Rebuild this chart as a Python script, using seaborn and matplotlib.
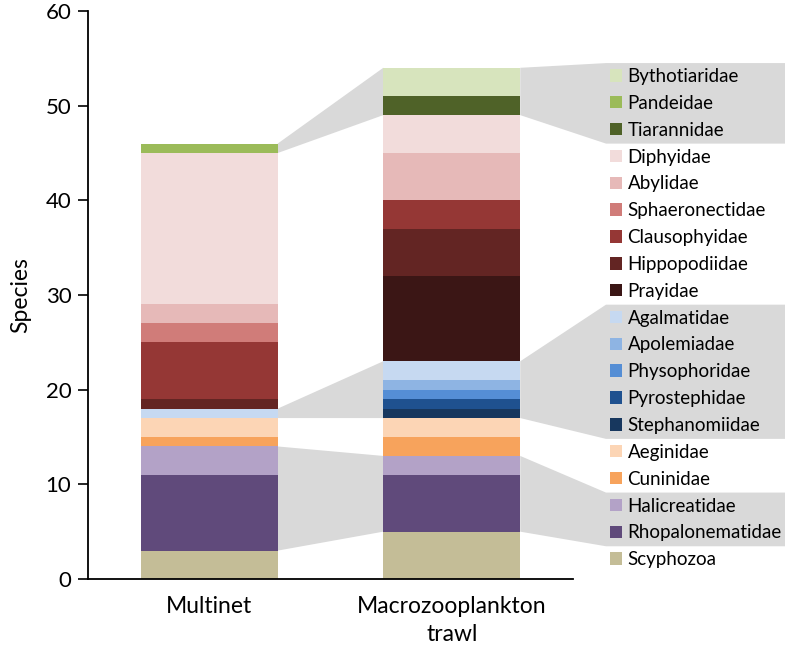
import numpy as np
import pandas as pd
import matplotlib
matplotlib.use("Agg")
import matplotlib.pyplot as plt
from matplotlib.patches import Patch, Polygon
import seaborn as sns

samples = ["Multinet", "Macrozooplankton\ntrawl"]

# stacking order, bottom -> top
families = ["Scyphozoa", "Rhopalonematidae", "Halicreatidae", "Cuninidae", "Aeginidae",
            "Stephanomiidae", "Pyrostephidae", "Physophoridae", "Apolemiadae", "Agalmatidae",
            "Prayidae", "Hippopodiidae", "Clausophyidae", "Sphaeronectidae", "Abylidae",
            "Diphyidae", "Tiarannidae", "Pandeidae", "Bythotiaridae"]
multinet = [3, 8, 3, 1, 2, 0, 0, 0, 0, 1, 0, 1, 6, 2, 2, 16, 0, 1, 0]
macro = [5, 6, 2, 2, 2, 1, 1, 1, 1, 2, 9, 5, 3, 0, 5, 4, 2, 0, 3]
colors = ["#c4bd97", "#604a7b", "#b3a2c7", "#f7a35c", "#fcd5b5",
          "#17375e", "#1f518f", "#558ed5", "#8eb4e3", "#c6d9f1",
          "#3b1615", "#632523", "#953735", "#d07c79", "#e6b9b8",
          "#f2dcdb", "#4f6228", "#9bbb59", "#d7e4bd"]

# families joined by grey bands
groups = [["Rhopalonematidae", "Halicreatidae"],
          ["Stephanomiidae", "Pyrostephidae", "Physophoridae", "Apolemiadae", "Agalmatidae"],
          ["Tiarannidae", "Pandeidae", "Bythotiaridae"]]

band_grey = "#d9d9d9"
bar_w = 0.565


def group_range(vals, fams):
    cum = np.concatenate([[0], np.cumsum(vals)])
    idx = [families.index(f) for f in fams]
    return cum[min(idx)], cum[max(idx) + 1]


def main():
    sns.set_style("ticks")
    plt.rcParams["font.family"] = ["Lato", "DejaVu Sans"]
    plt.rcParams["text.color"] = "black"
    plt.rcParams["axes.labelcolor"] = "black"
    plt.rcParams["xtick.color"] = "black"
    plt.rcParams["ytick.color"] = "black"

    df = pd.DataFrame({
        "sample": np.repeat(samples, len(families)),
        "family": families * 2,
        "n": multinet + macro,
    })
    df["bottom"] = df.groupby("sample", sort=False)["n"].cumsum() - df["n"]

    fig = plt.figure(figsize=(7.85, 6.5), dpi=100)
    ax = fig.add_axes([88 / 785, 1 - 579 / 650, (573 - 88) / 785, (579 - 11) / 650])
    ax.set_facecolor("none")

    for fam, col in zip(families, colors):
        d = df[df.family == fam]
        sns.barplot(data=d, x="sample", y="n", order=samples, bottom=d["bottom"].values,
                    color=col, saturation=1, width=bar_w, errorbar=None, linewidth=0,
                    ax=ax, zorder=2)

    h = bar_w / 2
    # wedges between the two bars
    for fams in groups:
        m_lo, m_hi = group_range(multinet, fams)
        M_lo, M_hi = group_range(macro, fams)
        ax.add_patch(Polygon([(0 + h, m_lo), (0 + h, m_hi), (1 - h, M_hi), (1 - h, M_lo)],
                             closed=True, facecolor=band_grey, edgecolor="none", zorder=1))

    ax.set_xlim(-0.5, 1.5)
    ax.set_ylim(0, 60)
    ax.set_yticks(np.arange(0, 61, 10))
    ax.set_xlabel("")
    ax.set_ylabel("Species", fontsize=16.5, labelpad=10)
    ax.tick_params(axis="y", labelsize=16, length=7, width=1.2, color="black",
                   labelcolor="black", pad=5)
    ax.tick_params(axis="x", labelsize=16.5, length=0, pad=12, labelcolor="black")
    for lab in ax.get_xticklabels():
        lab.set_linespacing(1.42)
    sns.despine(ax=ax)
    for s in ["left", "bottom"]:
        ax.spines[s].set_color("black")
        ax.spines[s].set_linewidth(1.3)

    handles = [Patch(facecolor=c, edgecolor="none", label=f)
               for f, c in zip(families[::-1], colors[::-1])]
    leg = ax.legend(handles=handles, loc="upper left", bbox_to_anchor=(610 / 785, 1 - 68 / 650),
                    bbox_transform=fig.transFigure, frameon=False, fontsize=13.5,
                    handlelength=0.64, handleheight=0.64, handletextpad=0.3,
                    labelspacing=0.525, borderpad=0, borderaxespad=0)
    for t in leg.get_texts():
        t.set_color("black")

    # grey bands from the right bar to the legend rows
    fig.canvas.draw()
    texts = {t.get_text(): t for t in leg.get_texts()}
    hands = leg.legend_handles
    centers = [0.5 * (t.get_window_extent().y0 + t.get_window_extent().y1) for t in leg.get_texts()]
    step = abs(centers[0] - centers[1])
    x_leg = hands[0].get_window_extent().x0 - 4
    x_end = fig.bbox.width
    for fams in groups:
        M_lo, M_hi = group_range(macro, fams)
        cy = [0.5 * (texts[f].get_window_extent().y0 + texts[f].get_window_extent().y1) for f in fams]
        top, bot = max(cy) + step / 2, min(cy) - step / 2
        p_hi = ax.transData.transform((1 + h, M_hi))
        p_lo = ax.transData.transform((1 + h, M_lo))
        pts = [p_lo, p_hi, (x_leg, top), (x_end, top), (x_end, bot), (x_leg, bot)]
        pts = fig.transFigure.inverted().transform(pts)
        fig.add_artist(Polygon(pts, closed=True, transform=fig.transFigure,
                               facecolor=band_grey, edgecolor="none", zorder=-1))

    fig.savefig("out.png", dpi=100, facecolor="white")


if __name__ == "__main__":
    main()
